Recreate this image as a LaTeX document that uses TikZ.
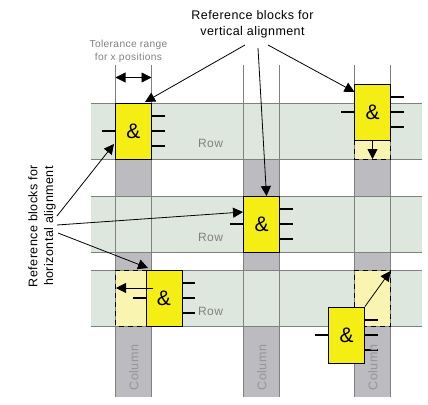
\documentclass[tikz,border=0pt]{standalone}
\usepackage{fontspec}
\setmainfont{Liberation Sans}
\newfontfamily\spacedfont[LetterSpace=3.5]{Liberation Sans}
\usetikzlibrary{arrows.meta}
\definecolor{rowgreen}{HTML}{DEE7DE}
\definecolor{colgray}{HTML}{BBBBC0}
\definecolor{gridgray}{HTML}{808080}
\definecolor{coltext}{HTML}{969696}
\definecolor{blockyellow}{HTML}{F5EE14}
\definecolor{ghostyellow}{HTML}{F9F5B0}
\tikzset{
	rowband/.style={fill=rowgreen},
	colband/.style={fill=colgray},
	gridline/.style={draw=gridgray, line width=0.9pt},
	ghost/.style={fill=ghostyellow},
	ghostedge/.style={draw=black, line width=0.9pt, dash pattern=on 5pt off 4pt},
	block/.style={draw=black, fill=blockyellow, line width=0.9pt, minimum width=36pt, minimum height=56pt, inner sep=0pt, font=\fontsize{21}{21}\selectfont},
	pin/.style={line width=2.6pt},
	callout/.style={font=\spacedfont\fontsize{12.5}{15.8}\selectfont, align=center},
	graylabel/.style={text=gridgray, font=\spacedfont\fontsize{12}{13}\selectfont},
	collabel/.style={text=coltext, rotate=90, font=\spacedfont\fontsize{12.5}{13}\selectfont},
	ptr/.style={line width=0.8pt, ->},
}
\newcommand{\pins}[1]{
	\draw [pin] (#1.west) -- ++(-13,0);
	\draw [pin] (#1.east) -- ++(13,0);
	\draw [pin] ([yshift=15pt]#1.east) -- ++(13,0);
	\draw [pin] ([yshift=-15pt]#1.east) -- ++(13,0);
}
\begin{document}
\begin{tikzpicture}[x=1pt, y=-1pt, >={Triangle[length=10pt,width=10pt]}]
	\useasboundingbox (0,0) rectangle (428,404);
	% rows and columns
	\fill [rowband] (91,103) rectangle (422,159);
	\fill [rowband] (91,196) rectangle (422,252);
	\fill [rowband] (91,270) rectangle (422,326);
	\foreach \cx in {115.5,243.5,354.5} {
		\fill [colband] (\cx,159) rectangle (\cx+36,196);
		\fill [colband] (\cx,252) rectangle (\cx+36,270);
		\fill [colband] (\cx,326) rectangle (\cx+36,397);
	}
	% moved away positions
	\fill [ghost] (354.5,140) rectangle (390.5,159);
	\fill [ghost] (115.5,270) rectangle (146.5,326);
	\fill [ghost] (354.5,270) rectangle (390.5,326);
	\foreach \cx in {115.5,151.5,243.5,279.5,354.5,390.5}
		\draw [gridline] (\cx,65) -- (\cx,397);
	\foreach \ry in {103,159,196,252,270,326}
		\draw [gridline] (91,\ry) -- (422,\ry);
	\draw [ghostedge] (354.5,140) -- (354.5,159) -- (390.5,159) -- (390.5,140);
	\draw [ghostedge] (146.5,270) -- (115.5,270) -- (115.5,326) -- (146.5,326);
	\draw [ghostedge] (354.5,307) -- (354.5,270) -- (390.5,270) -- (390.5,326) -- (364.5,326);
	% blocks
	\node [block] (blockA) at (133.5,131) {\&};
	\node [block] (blockB) at (261.5,224) {\&};
	\node [block] (blockC) at (372.5,112) {\&};
	\node [block] (blockD) at (164,298) {\&};
	\node [block] (blockE) at (346.5,335) {\&};
	\pins{blockA}
	\pins{blockB}
	\pins{blockC}
	\pins{blockD}
	\pins{blockE}
	% labels
	\node [callout] (vertlabel) at (252.5,24) {Reference blocks for\\vertical alignment};
	\node [callout, rotate=90] (horlabel) at (42,226) {Reference blocks for\\horizontal alignment};
	\node [graylabel, align=center, font=\spacedfont\fontsize{10.2}{13}\selectfont] (tollabel) at (128.5,51) {Tolerance range\\for x positions};
	\node [graylabel] (rowA) at (210.5,143) {Row};
	\node [graylabel] (rowB) at (210.5,237) {Row};
	\node [graylabel] (rowC) at (210.5,311) {Row};
	\node [collabel] (colA) at (134,367.5) {Column};
	\node [collabel] (colB) at (262,367.5) {Column};
	\node [collabel] (colC) at (373,367.5) {Column};
	% pointers
	\coordinate (vertstartA) at (245,45);
	\coordinate (vertstartB) at (258,48);
	\coordinate (vertstartC) at (268,45);
	\coordinate (horstartA) at (57,216);
	\coordinate (horstartB) at (57,225);
	\coordinate (horstartC) at (58,233);
	\coordinate (tipA) at (145,102);
	\coordinate (tipB) at (266.5,196);
	\coordinate (tipC) at (354.5,92);
	\coordinate (tipD) at (114,144);
	\coordinate (tipE) at (243,212);
	\coordinate (tipF) at (148,268);
	\draw [ptr] (vertstartA) -- (tipA);
	\draw [ptr] (vertstartB) -- (tipB);
	\draw [ptr] (vertstartC) -- (tipC);
	\draw [ptr] (horstartA) -- (tipD);
	\draw [ptr] (horstartB) -- (tipE);
	\draw [ptr] (horstartC) -- (tipF);
	% shifts
	\coordinate (tolleft) at (115.5,77.5);
	\coordinate (tolright) at (151.5,77.5);
	\coordinate (ghosttipC) at (372.5,159);
	\coordinate (ghosttipD) at (116,288);
	\coordinate (ghosttipE) at (390.5,271);
	\coordinate (shiftD) at (153,288);
	\draw [ptr, <->] (tolleft) -- (tolright);
	\draw [ptr] (blockC.south) -- (ghosttipC);
	\draw [ptr] (shiftD) -- (ghosttipD);
	\draw [ptr] (blockE.north east) -- (ghosttipE);
\end{tikzpicture}
\end{document}
